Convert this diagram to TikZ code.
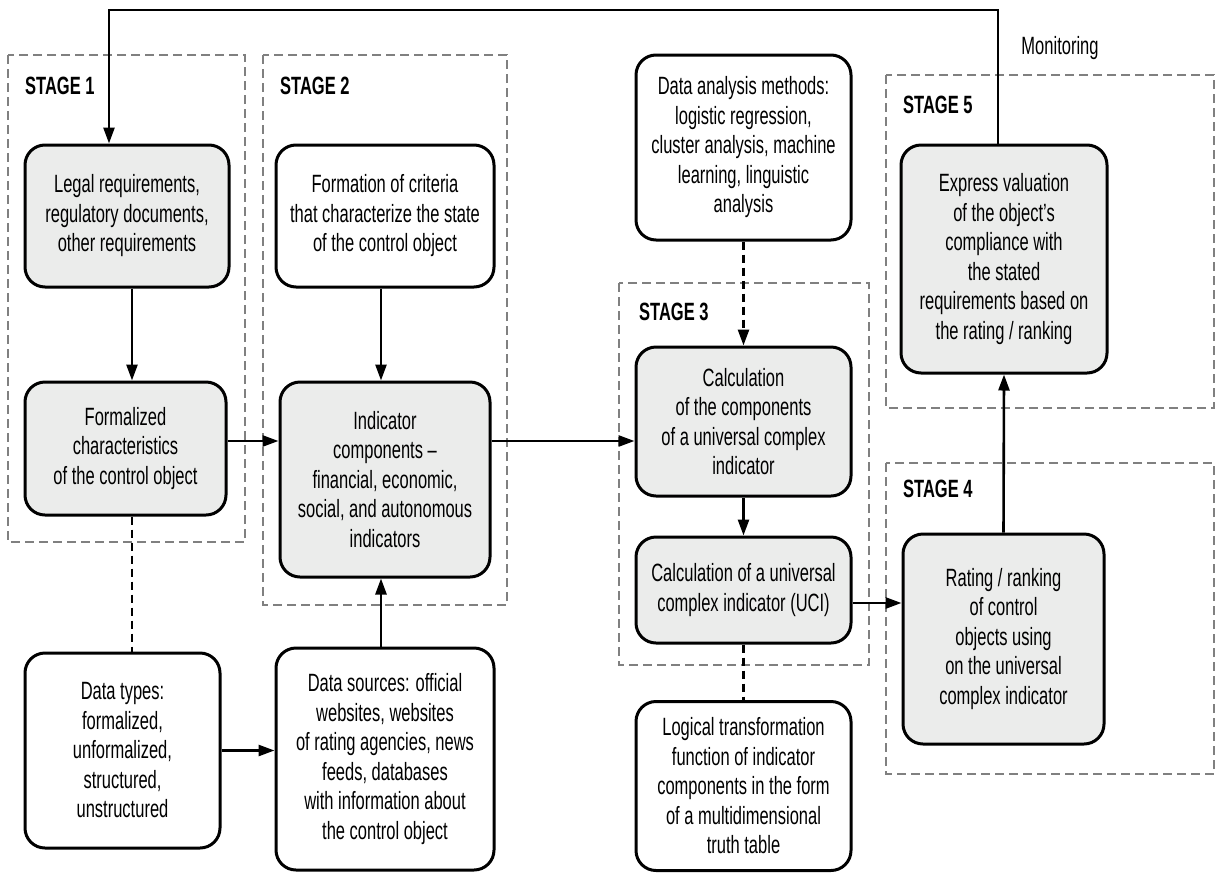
\documentclass[tikz,border=0pt]{standalone}
\usepackage{fontspec}
\setmainfont{Liberation Sans}[FakeStretch=0.66]
\usetikzlibrary{arrows.meta,calc}

\definecolor{boxfill}{HTML}{EBECEB}
\definecolor{framegray}{HTML}{808080}

\tikzset{
  blk/.style={draw, line width=3pt, rounded corners=20pt, align=center,
    inner sep=0pt, font=\fontsize{25}{29.5}\selectfont},
  shadedblk/.style={blk, fill=boxfill},
  stagebox/.style={draw=framegray, line width=2pt, dash pattern=on 9pt off 5pt},
  stagelbl/.style={anchor=west, inner sep=0pt, font=\fontsize{25}{29.5}\selectfont\bfseries},
  arr/.style={-{Triangle[length=16pt,width=11pt]}, line width=2.6pt},
  dsh/.style={line width=2.6pt, dash pattern=on 8pt off 5pt},
}

\begin{document}
\begin{tikzpicture}[x=1pt, y=-1pt]

    \useasboundingbox (0,0) rectangle (1217,873);

    %% Stage frames
    \draw[stagebox] (8,55) rectangle (245,542);
    \draw[stagebox] (263,55) rectangle (507,605);
    \draw[stagebox] (619,283) rectangle (869,665);
    \draw[stagebox] (886,75) rectangle (1214,408);
    \draw[stagebox] (886,463) rectangle (1214,774);

    \node[stagelbl] (st1) at (25,86) {STAGE 1};
    \node[stagelbl] (st2) at (280,86) {STAGE 2};
    \node[stagelbl] (st3) at (639,312) {STAGE 3};
    \node[stagelbl] (st5) at (903,105) {STAGE 5};
    \node[stagelbl] (st4) at (903,489) {STAGE 4};

    % Stage 1
    \node[shadedblk, minimum width=204pt, minimum height=142pt] (legal) at (127,216)
        {Legal requirements,\\regulatory documents,\\other requirements};
    \node[shadedblk, minimum width=201pt, minimum height=133pt] (formal) at (125.5,448.5)
        {Formalized\\characteristics\\of the control object};

    % Stage 2
    \node[blk, minimum width=218pt, minimum height=142pt] (criteria) at (385,216)
        {Formation of criteria\\that characterize the state\\of the control object};
    \node[shadedblk, minimum width=210pt, minimum height=195pt] (indic) at (385,479.5)
        {Indicator\\components --\\financial, economic,\\social, and autonomous\\indicators};

    % Stage 3
    \node[blk, minimum width=215pt, minimum height=185pt] (methods) at (743.5,147.5)
        {Data analysis methods:\\logistic regression,\\cluster analysis, machine\\learning, linguistic\\analysis};
    \node[shadedblk, minimum width=215pt, minimum height=149pt] (calccomp) at (743.5,421.5)
        {Calculation\\of the components\\of a universal complex\\indicator};
    \node[shadedblk, minimum width=215pt, minimum height=106pt] (calcuci) at (743.5,590)
        {Calculation of a universal\\complex indicator (UCI)};

    % Stages 4 and 5
    \node[shadedblk, minimum width=206pt, minimum height=228pt] (express) at (1004,259)
        {Express valuation\\of the object’s\\compliance with\\the stated\\requirements based on\\the rating / ranking};
    \node[shadedblk, minimum width=201pt, minimum height=210pt] (rating) at (1003.5,639)
        {Rating / ranking\\of control\\objects using\\on the universal\\complex indicator};

    % Data
    \node[blk, minimum width=195pt, minimum height=195pt] (types) at (122.5,750.5)
        {Data types:\\formalized,\\unformalized,\\structured,\\unstructured};
    \node[blk, minimum width=218pt, minimum height=222pt] (sources) at (385,759)
        {Data sources: official\\websites, websites\\of rating agencies, news\\feeds, databases\\with information about\\the control object};
    \node[blk, minimum width=215pt, minimum height=169pt] (logic) at (743.5,786)
        {Logical transformation\\function of indicator\\components in the form\\of a multidimensional\\truth table};

    \node[font=\fontsize{25}{29.5}\selectfont] (mon) at (1060,48) {Monitoring};

    % Helper lines
    \coordinate (top) at (0,10);
    \coordinate (row1) at (0,441);
    \coordinate (row2) at (0,603);
    \coordinate (col1) at (132,0);
    \coordinate (col2) at (381,0);
    \coordinate (fbout) at ($(express.north)+(-6,0)$);
    \coordinate (fbin) at ($(legal.north)+(-18,0)$);

    % Connectors
    \draw[arr] (fbout) |- (fbin |- top) -- (fbin);
    \draw[arr] (legal.south -| col1) -- (formal.north -| col1);
    \draw[arr] (criteria.south -| col2) -- (indic.north -| col2);
    \draw[arr] (formal.east |- row1) -- (indic.west |- row1);
    \draw[arr] (indic.east |- row1) -- (calccomp.west |- row1);
    \draw[arr] (sources.north -| col2) -- (indic.south -| col2);
    \draw[arr] (types.east) -- (types.east -| sources.west);
    \draw[dsh] (formal.south -| col1) -- (types.north -| col1);
    \draw[dsh, -{Triangle[length=16pt,width=11pt]}] (methods.south) -- (calccomp.north);
    \draw[arr] (calccomp.south) -- (calcuci.north);
    \draw[dsh] (calcuci.south) -- (logic.north);
    \draw[arr] (calcuci.east |- row2) -- (rating.west |- row2);
    \draw[arr] (rating.north) -- (express.south);

\end{tikzpicture}
\end{document}
